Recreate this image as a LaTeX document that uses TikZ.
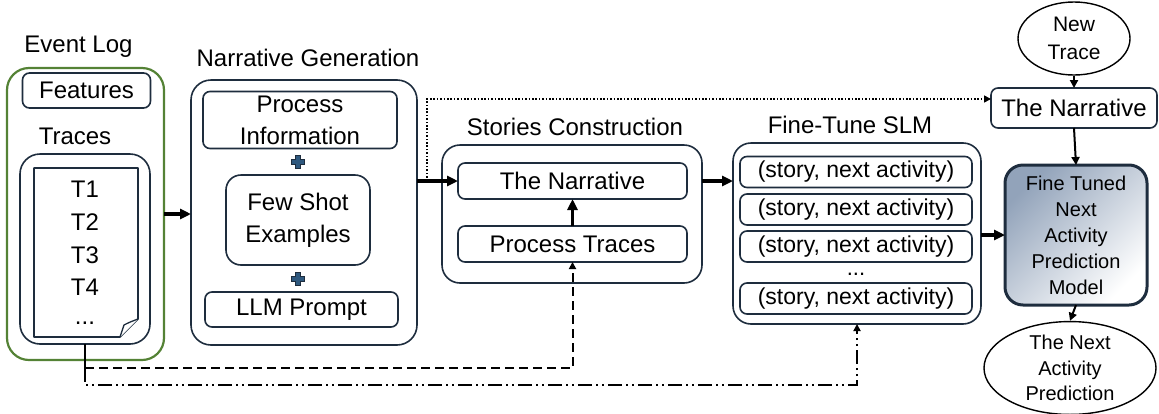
\documentclass[tikz,border=0pt]{standalone}
\usepackage{fontspec}
\setmainfont{Liberation Sans}
\usetikzlibrary{shapes.geometric,arrows.meta}
\definecolor{navy}{RGB}{30,45,62}
\definecolor{loggreen}{RGB}{84,130,53}
\definecolor{plusblue}{RGB}{46,88,126}
\definecolor{modelshade}{RGB}{146,163,186}
\tikzset{
  plussign/.pic={
    \draw[navy,line width=0.6pt,fill=plusblue]
      (-6.5,-2.5) -- (-2.5,-2.5) -- (-2.5,-6.5) -- (2.5,-6.5) -- (2.5,-2.5) -- (6.5,-2.5)
      -- (6.5,2.5) -- (2.5,2.5) -- (2.5,6.5) -- (-2.5,6.5) -- (-2.5,2.5) -- (-6.5,2.5) -- cycle;
  }
}
\begin{document}
\begin{tikzpicture}[x=1pt,y=-1pt,
  box/.style={draw=navy,line width=1.6pt,rounded corners=7pt,inner sep=0pt,outer sep=0pt,
    align=center,font=\fontsize{24}{32}\selectfont,fill=white},
  bigbox/.style={box,rounded corners=20pt},
  lbl/.style={inner sep=0pt,font=\fontsize{24}{30}\selectfont},
  oval/.style={draw=black,line width=1.4pt,ellipse,inner sep=0pt,align=center},
  mainarrow/.style={line width=3.2pt,-{Triangle[length=11pt,width=10pt]}},
  thinarrow/.style={line width=2pt,-{Triangle[length=8pt,width=8pt]}},
  dotline/.style={line width=1.6pt,dash pattern=on 1.6pt off 1.8pt,-{Triangle[length=7pt,width=7pt]}},
  dashline/.style={line width=2pt,dash pattern=on 9pt off 5pt,-{Triangle[length=7pt,width=7pt]}},
  dashdotline/.style={line width=2pt,dash pattern=on 14pt off 4pt on 2pt off 4pt on 2pt off 4pt,-{Triangle[length=7pt,width=7pt]}},
]
\useasboundingbox (0,0) rectangle (1159,413);

% ---------------- Event log ----------------
\node[lbl] (evlbl) at (78.5,47) {Event Log};
\node[box,draw=loggreen,line width=2.2pt,rounded corners=22pt,minimum width=157pt,minimum height=292pt] (evlog) at (85.5,214) {};
\node[box,minimum width=128pt,minimum height=35pt] (feat) at (86.5,90.5) {Features};
\node[lbl] (trlbl) at (75,136) {Traces};
\node[bigbox,minimum width=130pt,minimum height=190pt] (trbox) at (85,249) {};
% trace document with folded corner
\draw[navy,line width=1.6pt,fill=white,line join=round]
  (34,168) -- (138,168) -- (138,319) -- (120,337) -- (34,337) -- cycle;
\draw[navy,line width=1.3pt,fill=white,line join=round]
  (120,337) -- (124,325) .. controls (130,322) .. (138,319);
\node[lbl] (t1) at (85,189) {T1};
\node[lbl] (t2) at (85,222) {T2};
\node[lbl] (t3) at (85,255) {T3};
\node[lbl] (t4) at (85,287) {T4};
\node[lbl] (tdots) at (85,323) {...};

% ---------------- Narrative generation ----------------
\node[lbl] (nglbl) at (308,58) {Narrative Generation};
\node[bigbox,minimum width=226pt,minimum height=265pt] (narrgen) at (304,212.5) {};
\node[box,minimum width=194pt,minimum height=57pt] (procinfo) at (300,120) {Process\\Information};
\node[box,rounded corners=15pt,minimum width=144pt,minimum height=90pt] (fewshot) at (298,220) {Few Shot\\Examples};
\node[box,minimum width=193pt,minimum height=35pt] (llm) at (301.5,309.5) {LLM Prompt};
\pic at (298,162) {plussign};
\pic at (298,279) {plussign};

% ---------------- Stories construction ----------------
\node[lbl] (sclbl) at (575,127) {Stories Construction};
\node[bigbox,rounded corners=18pt,minimum width=260pt,minimum height=138pt] (stories) at (572,214) {};
\node[box,minimum width=229pt,minimum height=36pt] (narr) at (572.5,181) {The Narrative};
\node[box,minimum width=229pt,minimum height=36pt] (ptraces) at (572.5,244) {Process Traces};

% ---------------- Fine-tune SLM ----------------
\node[lbl] (ftlbl) at (850,125) {Fine-Tune SLM};
\node[bigbox,rounded corners=18pt,minimum width=248pt,minimum height=181pt] (finetune) at (857,233.5) {};
\begin{scope}[every node/.style={box,minimum width=232pt,minimum height=31pt,font=\fontsize{23}{28}\selectfont}]
  \node (pair1) at (856,172) {(story, next activity)};
  \node (pair2) at (856,209.5) {(story, next activity)};
  \node (pair3) at (856,246.5) {(story, next activity)};
  \node (pair4) at (856,298.5) {(story, next activity)};
\end{scope}
\node[lbl,font=\fontsize{22}{26}\selectfont] (pdots) at (856,274) {...};

% ---------------- Prediction column ----------------
\node[oval,minimum width=112pt,minimum height=73pt,font=\fontsize{21}{28}\selectfont] (newtrace) at (1074,38.5) {New\\Trace};
\node[box,minimum width=166pt,minimum height=40pt] (rnarr) at (1074,108) {The Narrative};
\node[box,line width=3pt,rounded corners=18pt,minimum width=142pt,minimum height=140pt,
  top color=modelshade,bottom color=white,shading angle=45,
  font=\fontsize{20}{26}\selectfont] (model) at (1076,235) {Fine Tuned\\Next\\Activity\\Prediction\\Model};
\node[oval,minimum width=172pt,minimum height=90pt,font=\fontsize{20}{25.5}\selectfont] (nextpred) at (1070,368) {The Next\\Activity\\Prediction};

% ---------------- Connectors ----------------
\draw[mainarrow] (evlog.east) -- (evlog.east -| narrgen.west);
\draw[mainarrow] (narrgen.east |- narr) -- (narr.west);
\coordinate (split) at (427,181);
\draw[dotline] (split) |- ([yshift=9pt]rnarr.west);
\draw[mainarrow] (ptraces.north) -- (narr.south);
\draw[mainarrow] (stories.east |- narr) -- (finetune.west |- narr);
\draw[mainarrow] (finetune.east |- model) -- (model.west);
\draw[thinarrow] (newtrace.south) -- (rnarr.north);
\draw[thinarrow] (rnarr.south) -- (model.north);
\draw[thinarrow] (model.south) -- (nextpred.north);

\coordinate (bend) at (85,368);
\coordinate (lowbend) at (85,385);
\draw[line width=2pt] (trbox.south) -- (bend);
\draw[dashline] (bend) -| (ptraces.south);
\draw[dashdotline] (bend) -- (lowbend) -| (finetune.south);
\end{tikzpicture}
\end{document}
